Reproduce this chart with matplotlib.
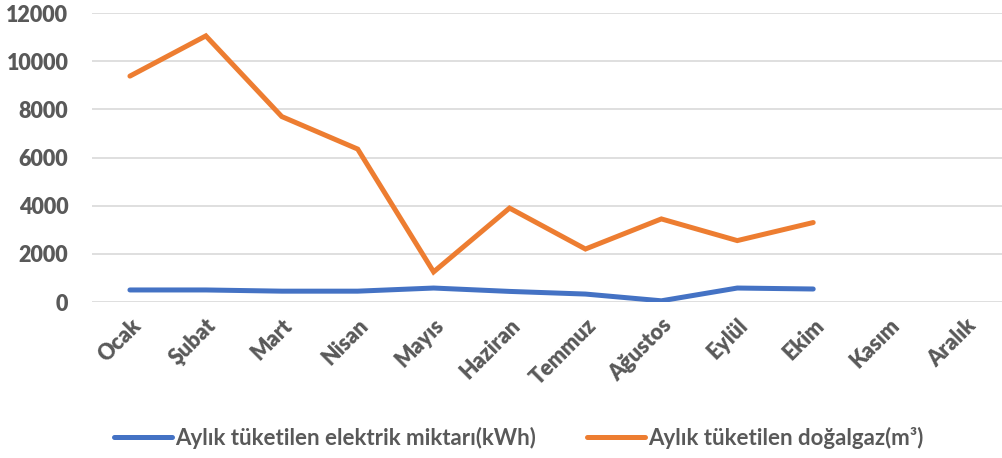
import matplotlib
matplotlib.use("Agg")
from matplotlib import pyplot as plt
import numpy as np

months = ['Ocak', 'Şubat', 'Mart', 'Nisan', 'Mayıs', 'Haziran',
          'Temmuz', 'Ağustos', 'Eylül', 'Ekim', 'Kasım', 'Aralık']
elektrik = [500, 500, 450, 450, 580, 440, 330, 50, 580, 540]
dogalgaz = [9380, 11050, 7700, 6350, 1250, 3900, 2200, 3450, 2550, 3300]
yticks = [0, 2000, 4000, 6000, 8000, 10000, 12000]

label_elek = 'Aylık tüketilen elektrik miktarı(kWh)'
label_gaz = 'Aylık tüketilen doğalgaz(m³)'

plt.rcParams['font.family'] = ['Lato', 'DejaVu Sans']
text_col = '#595959'

fig = plt.figure(figsize=(10.03, 4.58), dpi=100)
ax = fig.add_axes([0.0917, 0.3406, 0.9083, 0.631])

x = np.arange(len(months))
ax.plot(x[:len(elektrik)], elektrik, color='#4472c4', lw=3.6,
        solid_capstyle='round', solid_joinstyle='miter', label=label_elek)
ax.plot(x[:len(dogalgaz)], dogalgaz, color='#ed7d31', lw=3.6,
        solid_capstyle='round', solid_joinstyle='miter', label=label_gaz)

ax.set_xlim(-0.5, len(months) - 0.5)
ax.set_ylim(0, 12000)
ax.set_yticks(yticks)
ax.set_yticklabels([str(v) for v in yticks], fontsize=15.5,
                   fontweight='heavy', color=text_col)
ax.set_xticks(x)
ax.set_xticklabels(months, rotation=45, ha='right', rotation_mode='anchor',
                   fontsize=15.5, fontweight='heavy', color=text_col)
ax.tick_params(axis='both', length=0)
ax.tick_params(axis='y', pad=17)
ax.tick_params(axis='x', pad=9)

ax.grid(axis='y', color='#d9d9d9', lw=1.2)
ax.set_axisbelow(True)
for s in ax.spines.values():
    s.set_visible(False)

leg = fig.legend(loc='center', bbox_to_anchor=(0.517, 0.044), ncol=2,
                 frameon=False, handlelength=2.6, handletextpad=0.15,
                 columnspacing=2.3,
                 prop={'size': 16, 'weight': 'bold'})
for t in leg.get_texts():
    t.set_color(text_col)

fig.savefig('out.png', dpi=100)
